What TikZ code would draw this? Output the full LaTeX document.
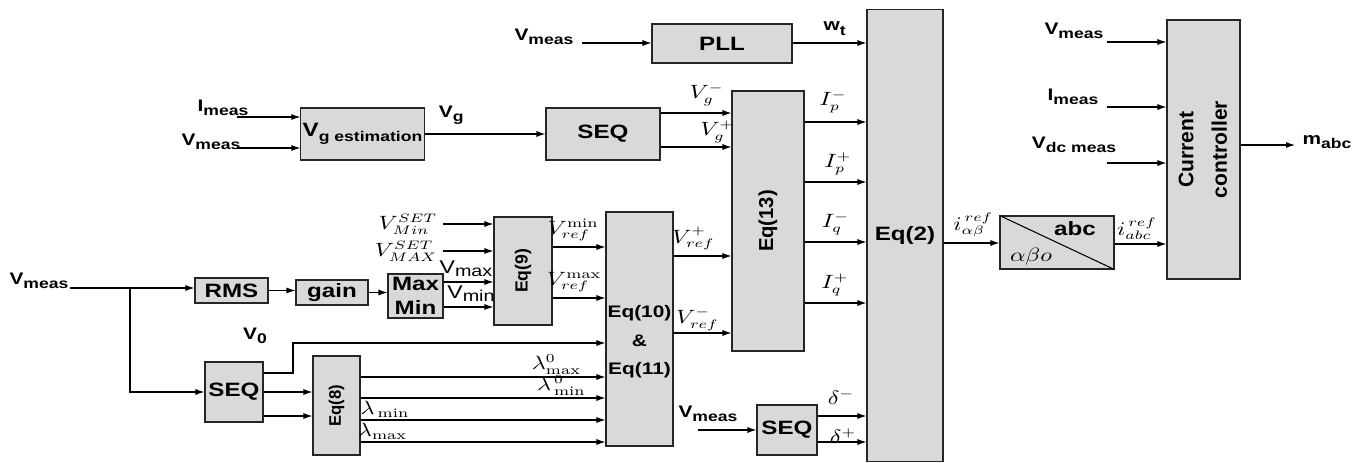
\documentclass[tikz,border=0pt]{standalone}
\usepackage{fontspec}
\setsansfont{Liberation Sans}[FakeStretch=1.25]
\newfontfamily\rotsf{Liberation Sans}
\usepackage{graphicx}
\usetikzlibrary{arrows.meta,calc,positioning}

\newcommand{\sbs}[1]{\raisebox{-0.5ex}{\fontsize{8}{8}\selectfont #1}}
\newcommand{\ml}[1]{\scalebox{1.25}[1]{$#1$}}

\tikzset{
  blk/.style={draw=black!85, fill=black!15, line width=0.6pt, inner sep=1pt, align=center},
  big/.style={font=\sffamily\bfseries\fontsize{11}{13.7}\selectfont},
  mid/.style={font=\sffamily\bfseries\fontsize{11}{13}\selectfont},
  vbig/.style={font=\rotsf\bfseries\fontsize{#1}{#1}\selectfont},
  arr/.style={-{Latex[length=1.8mm,width=1.2mm]}, line width=0.6pt},
  lbl/.style={font=\sffamily\bfseries\fontsize{9.5}{10}\selectfont, inner sep=0pt},
  thinlbl/.style={font=\sffamily\fontsize{10.5}{11}\selectfont, inner sep=0pt},
  mlbl/.style={font=\fontsize{10.5}{12}\selectfont, inner sep=0pt},
}

\begin{document}
\begin{tikzpicture}[x=0.02cm, y=-0.02cm]
\useasboundingbox (0,0) rectangle (1367,463);

% blocks
\node[blk, big, minimum width=1.46cm, minimum height=0.5cm] (rms) at (231.5,290.5) {RMS};
\node[blk, big, minimum width=1.44cm, minimum height=0.5cm] (gain) at (332,292.5) {gain};
\node[blk, big, inner sep=0pt, minimum width=1.1cm, minimum height=0.88cm] (mm) at (415.5,296) {Max\\Min};
\node[blk, big, minimum width=1.16cm, minimum height=1.2cm] (seqA) at (234,392) {SEQ};
\node[blk, vbig=9.5, minimum width=0.94cm, minimum height=1.98cm] (eqEight) at (336.5,405.5) {\rotatebox{90}{Eq(8)}};
\node[blk, vbig=10, minimum width=1.16cm, minimum height=2.16cm] (eqNine) at (523,271) {\rotatebox{90}{Eq(9)}};
\node[blk, minimum width=1.34cm, minimum height=4.68cm] (eqTen) at (639.5,329) {};
\node[align=center, font=\sffamily\bfseries\fontsize{9.5}{16.2}\selectfont] (eqTenTxt) at (639.5,342) {Eq(10)\\\&\\Eq(11)};
\node[blk, big, minimum width=2.42cm, minimum height=1.04cm] (vgEst) at (362.5,134) {V\raisebox{-0.5ex}{\fontsize{8}{9}\selectfont g estimation}};
\node[blk, big, minimum width=2.28cm, minimum height=1.04cm] (seqB) at (603,134) {SEQ};
\node[blk, mid, minimum width=2.8cm, minimum height=0.78cm] (pll) at (722,43.5) {PLL};
\node[blk, vbig=11.5, minimum width=1.44cm, minimum height=5.2cm] (eqThirteen) at (768,221) {\rotatebox{90}{Eq(13)}};
\node[blk, mid, minimum width=1.52cm, minimum height=9.06cm] (eqTwo) at (905,235.5) {Eq(2)};
\node[blk, big, minimum width=1.2cm, minimum height=1.0cm] (seqC) at (787,430) {SEQ};
\node[blk, minimum width=2.28cm, minimum height=1.06cm] (abc) at (1057,242.5) {};
\draw[line width=0.6pt] (abc.north west) -- (abc.south east);
\node[big, inner sep=0pt] (abcTo) at (1075,229) {abc};
\node[mlbl] (abcFrom) at (1031,257) {\ml{\alpha\beta o}};
\node[blk, vbig=12, minimum width=1.46cm, minimum height=5.18cm] (ctrl) at (1203.5,149.5)
  {\rotatebox{90}{\fontsize{12}{19}\selectfont\begin{tabular}{@{}c@{}}Current\\controller\end{tabular}}};

% input labels
\node[lbl] (vmA) at (39,281) {V\sbs{meas}};
\node[lbl] (imB) at (223,108) {I\sbs{meas}};
\node[lbl] (vmB) at (211,142) {V\sbs{meas}};
\node[lbl] (vmP) at (544,37) {V\sbs{meas}};
\node[lbl] (vmS) at (708,414) {V\sbs{meas}};
\node[lbl] (vmC) at (1074,31) {V\sbs{meas}};
\node[lbl] (imC) at (1073,97) {I\sbs{meas}};
\node[lbl] (vdC) at (1074,145) {V\sbs{dc meas}};
\node[lbl] (vZero) at (255,336) {V\sbs{0}};
\node[lbl] (mOut) at (1327,142) {m\sbs{abc}};
\node[mlbl] (dMinus) at (841,397) {\ml{\delta^{-}}};
\node[mlbl] (dPlus) at (843,436) {\ml{\delta^{+}}};

\coordinate (inA) at (70,288);
\coordinate (brA) at (130,288);
\coordinate (inI) at (237,117);
\coordinate (inV) at (237,148);
\coordinate (inP) at (582,43);
\coordinate (inS) at (698,430);
\coordinate (inSmin) at (443,224);
\coordinate (inSmax) at (443,251);
\coordinate (inCa) at (1107,42);
\coordinate (inCb) at (1107,107);
\coordinate (inCc) at (1107,163);
\coordinate (kV0) at (293,343);
\coordinate (outM) at (1295,145);

% connectors, left part
\draw[arr] (inA) -- (inA -| rms.west);
\draw[arr] (brA) |- (seqA.west);
\draw[arr] (rms.east) -- (rms.east -| gain.west);
\draw[arr] (gain.east) -- (gain.east -| mm.west);
\draw[arr] (mm.east |- 0,282) -- (eqNine.west |- 0,282) node[thinlbl, pos=0.45, above=3pt] {V\raisebox{-0.3ex}{\fontsize{9}{9}\selectfont max}};
\draw[arr] (mm.east |- 0,307) -- (eqNine.west |- 0,307) node[thinlbl, pos=0.55, above=3pt] {V\raisebox{-0.3ex}{\fontsize{9}{9}\selectfont min}};
\draw[arr] (inSmin) node[mlbl, left=3pt] {\ml{V^{SET}_{Min}}} -- (inSmin -| eqNine.west);
\draw[arr] (inSmax) node[mlbl, left=3pt] {\ml{V^{SET}_{MAX}}} -- (inSmax -| eqNine.west);
\draw[arr] (eqNine.east |- 0,247) -- (eqTen.west |- 0,247) node[mlbl, pos=0.39, above=3pt] {\ml{V^{\min}_{ref}}};
\draw[arr] (eqNine.east |- 0,298) -- (eqTen.west |- 0,298) node[mlbl, pos=0.41, above=3pt] {\ml{V^{\max}_{ref}}};
\draw[arr] (seqA.east |- 0,373) -| (kV0) -- (kV0 -| eqTen.west);
\draw[arr] (seqA.east) -- (seqA.east -| eqEight.west);
\draw[arr] (seqA.east |- 0,416) -- (eqEight.west |- 0,416);
\draw[arr] (eqEight.east |- 0,377) -- (eqTen.west |- 0,377) node[mlbl, pos=0.80, above=1pt] {\ml{\lambda^{0}_{\max}}};
\draw[arr] (eqEight.east |- 0,398) -- (eqTen.west |- 0,398) node[mlbl, pos=0.82, above=1pt] {\ml{\lambda^{\,0}_{\,\min}}};
\draw[arr] (eqEight.east |- 0,420) -- (eqTen.west |- 0,420) node[mlbl, pos=0.10, above=1pt] {\ml{\lambda_{\,\min}}};
\draw[arr] (eqEight.east |- 0,442) -- (eqTen.west |- 0,442) node[mlbl, pos=0.09, above=1pt] {\ml{\lambda_{\max}}};

% connectors, top part
\draw[arr] (inI) -- (inI -| vgEst.west);
\draw[arr] (inV) -- (inV -| vgEst.west);
\draw[arr] (vgEst.east) -- (vgEst.east -| seqB.west) node[lbl, pos=0.22, above=5pt] {V\sbs{g}};
\draw[arr] (seqB.east |- 0,113) -- (eqThirteen.west |- 0,113) node[mlbl, pos=0.65, above=4pt] {\ml{V^{-}_{g}}};
\draw[arr] (seqB.east |- 0,147) -- (eqThirteen.west |- 0,147) node[mlbl, pos=0.8, above=2pt] {\ml{V^{+}_{g}}};
\draw[arr] (inP) -- (inP -| pll.west);
\draw[arr] (pll.east |- 0,43) -- (eqTwo.west |- 0,43) node[lbl, pos=0.57, above=4pt] {w\sbs{t}};
\draw[arr] (eqTen.east |- 0,256) -- (eqThirteen.west |- 0,256) node[mlbl, pos=0.34, above=3pt] {\ml{V^{+}_{ref}}};
\draw[arr] (eqTen.east |- 0,333) -- (eqThirteen.west |- 0,333) node[mlbl, pos=0.41, above=1pt] {\ml{V^{-}_{ref}}};
\draw[arr] (eqThirteen.east |- 0,122) -- (eqTwo.west |- 0,122) node[mlbl, pos=0.46, above=5pt] {\ml{I^{-}_{p}}};
\draw[arr] (eqThirteen.east |- 0,182) -- (eqTwo.west |- 0,182) node[mlbl, pos=0.54, above=4pt] {\ml{I^{+}_{p}}};
\draw[arr] (eqThirteen.east |- 0,242) -- (eqTwo.west |- 0,242) node[mlbl, pos=0.50, above=4pt] {\ml{I^{-}_{q}}};
\draw[arr] (eqThirteen.east |- 0,303) -- (eqTwo.west |- 0,303) node[mlbl, pos=0.49, above=4pt] {\ml{I^{+}_{q}}};
\draw[arr] (inS) -- (inS -| seqC.west);
\draw[arr] (seqC.east |- 0,416) -- (eqTwo.west |- 0,416);
\draw[arr] (seqC.east |- 0,442) -- (eqTwo.west |- 0,442);

% connectors, right part
\draw[arr] (eqTwo.east |- 0,243) -- (abc.west |- 0,243) node[mlbl, pos=0.53, above=3pt] {\ml{i^{\,ref}_{\alpha\beta}}};
\draw[arr] (abc.east |- 0,244) -- (ctrl.west |- 0,244) node[mlbl, pos=0.43, above=2pt] {\ml{i^{\,ref}_{abc}}};
\draw[arr] (inCa) -- (inCa -| ctrl.west);
\draw[arr] (inCb) -- (inCb -| ctrl.west);
\draw[arr] (inCc) -- (inCc -| ctrl.west);
\draw[arr] (ctrl.east |- outM) -- (outM);
\end{tikzpicture}
\end{document}
